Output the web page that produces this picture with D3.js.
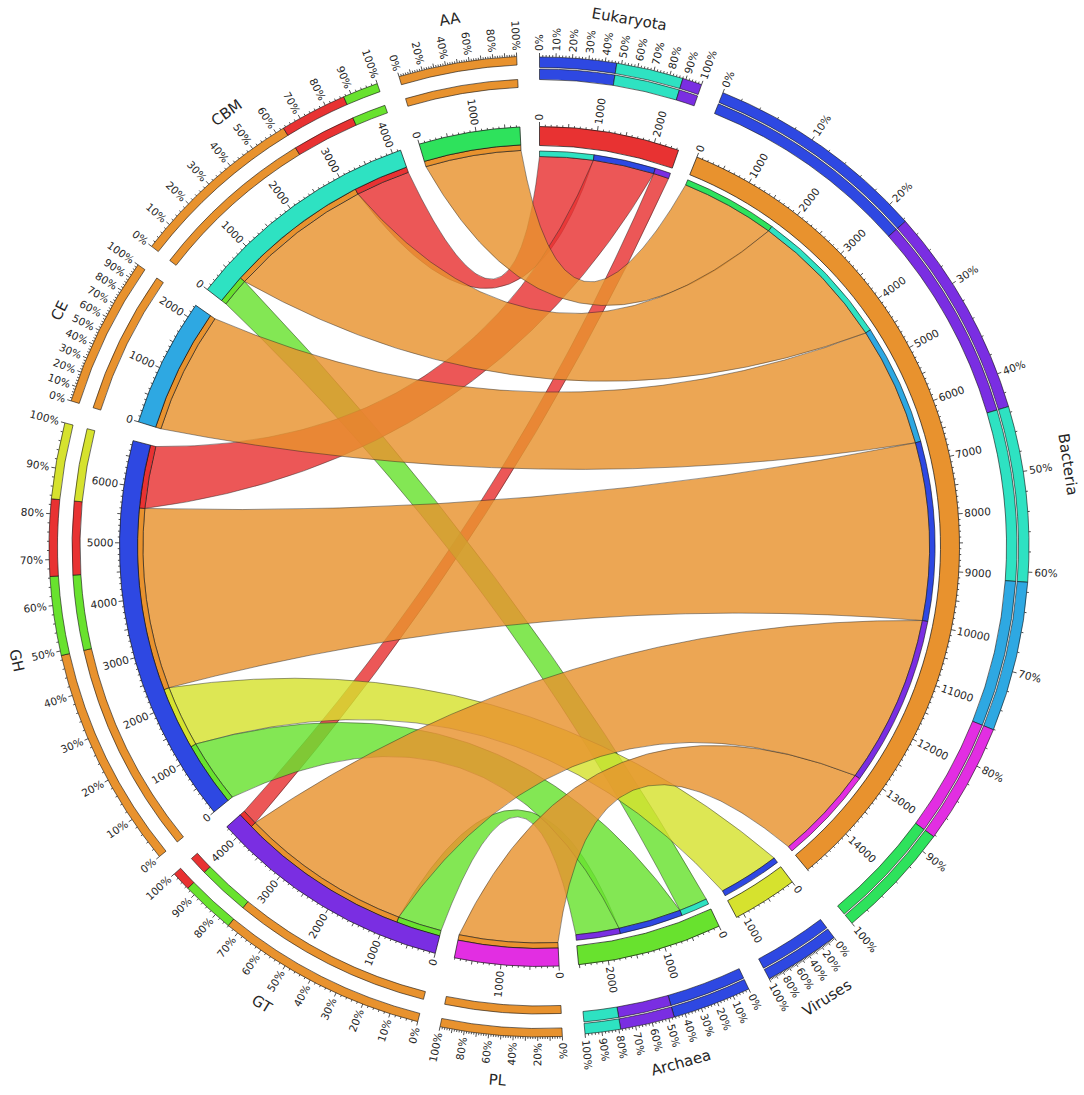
<!DOCTYPE html>
<html>
<head>
<meta charset="utf-8">
<script src="https://cdn.jsdelivr.net/npm/d3@7"></script>
<style>
  body { margin: 0; background: #fff; }
  svg text { font-family: "DejaVu Sans", sans-serif; fill: #262626; }
</style>
</head>
<body>
<svg id="chart" width="1084" height="1095"></svg>
<script>
// rows of the table (organisms) and columns (CAZy classes)
var organisms = ["Eukaryota", "Bacteria", "Viruses", "Archaea"];
var organismColors = ["#e83232", "#e8922e", "#d6e22e", "#68e22e"];
var classes = ["AA", "CBM", "CE", "GH", "GT", "PL"];
var classColors = ["#2ee25c", "#2ee2c2", "#2ea8e2", "#2e48e2", "#7a2ee2", "#e22ee2"];

// counts per organism, same order as classes
var eukaryota = [0, 1000, 0, 1145, 290, 0];
var bacteria  = [1760, 2620, 2240, 3320, 3150, 1810];
var viruses   = [0, 0, 0, 1135, 0, 0];
var archaea   = [0, 530, 0, 1175, 810, 0];
var counts = [eukaryota, bacteria, viruses, archaea];

// segments clockwise from 12 o'clock
var segmentOrder = ["Eukaryota", "Bacteria", "Viruses", "Archaea", "PL", "GT", "GH", "CE", "CBM", "AA"];

var deg = Math.PI / 180;
var gap = 2.67 * deg;
var pull = 0.4;   // bezier control point = pull * midpoint of the two ends

var rad = {
  org: {cap: [390, 395.5], band: [401, 420], ringA: [467, 477.5], ringB: [479, 489.5]},
  cls: {cap: [396.5, 402], band: [402, 420], ringA: [459.5, 467.5], ringB: [482, 490.5]}
};

var svg = d3.select("#chart");
var g = svg.append("g").attr("transform", "translate(539.5,546.5)");

var arc = d3.arc();
function arcPath(r, a0, a1) {
  return arc({innerRadius: r[0], outerRadius: r[1], startAngle: a0, endAngle: a1});
}

// build segments
var segments = segmentOrder.map(function(name, i) {
  var o = organisms.indexOf(name), c = classes.indexOf(name);
  var isOrg = o >= 0;
  var partners;
  if (isOrg) {
    partners = classes.map(function(cn, j) { return {name: cn, value: counts[o][j], color: classColors[j]}; });
  } else {
    partners = organisms.map(function(on, j) { return {name: on, value: counts[j][c], color: organismColors[j]}; });
  }
  partners = partners.filter(function(p) { return p.value > 0; });
  return {
    name: name, isOrg: isOrg,
    color: isOrg ? organismColors[o] : classColors[c],
    partners: partners,
    total: d3.sum(partners, function(p) { return p.value; }),
    r: isOrg ? rad.org : rad.cls
  };
});

var totalUnits = d3.sum(segments, function(s) { return s.total; });
var k = (2 * Math.PI - segments.length * gap) / totalUnits;
var a = 0;
segments.forEach(function(s) {
  s.startAngle = a;
  s.endAngle = a + s.total * k;
  s.scale = d3.scaleLinear().domain([0, s.total]).range([s.startAngle, s.endAngle]);
  s.pct = d3.scaleLinear().domain([0, 100]).range([s.startAngle, s.endAngle]);
  a = s.endAngle + gap;
});

// ribbon ends: partners that sit furthest clockwise come first
var ends = {};
segments.forEach(function(s) {
  var sorted = s.partners.slice().sort(function(p, q) {
    return segmentOrder.indexOf(q.name) - segmentOrder.indexOf(p.name);
  });
  var off = 0;
  s.caps = sorted.map(function(p) {
    var e = {startAngle: s.scale(off), endAngle: s.scale(off + p.value), radius: s.r.cap[0], color: p.color};
    off += p.value;
    ends[s.name + "|" + p.name] = e;
    return e;
  });
});

var links = [];
organisms.forEach(function(on, i) {
  classes.forEach(function(cn, j) {
    if (counts[i][j] > 0) {
      links.push({source: ends[on + "|" + cn], target: ends[cn + "|" + on], value: counts[i][j], color: organismColors[i]});
    }
  });
});
links.sort(function(x, y) { return x.value - y.value; });

// circos-like ribbon: control point pulled towards the chord midpoint
function ribbonPath(d) {
  var s = d.source, t = d.target, h = Math.PI / 2;
  var sr = s.radius, tr = t.radius;
  var sa0 = s.startAngle - h, sa1 = s.endAngle - h;
  var ta0 = t.startAngle - h, ta1 = t.endAngle - h;
  function pt(r, an) { return [r * Math.cos(an), r * Math.sin(an)]; }
  var s0 = pt(sr, sa0), s1 = pt(sr, sa1), t0 = pt(tr, ta0), t1 = pt(tr, ta1);
  var p = d3.path();
  p.moveTo(s0[0], s0[1]);
  p.arc(0, 0, sr, sa0, sa1);
  p.quadraticCurveTo(pull * (s1[0] + t0[0]) / 2, pull * (s1[1] + t0[1]) / 2, t0[0], t0[1]);
  p.arc(0, 0, tr, ta0, ta1);
  p.quadraticCurveTo(pull * (t1[0] + s0[0]) / 2, pull * (t1[1] + s0[1]) / 2, s0[0], s0[1]);
  p.closePath();
  return p.toString();
}

g.append("g").attr("class", "ribbons")
  .selectAll("path")
  .data(links)
  .enter().append("path")
    .attr("d", ribbonPath)
    .style("fill", function(d) { return d.color; })
    .style("fill-opacity", 0.82)
    .style("stroke", "#222")
    .style("stroke-opacity", 0.75)
    .style("stroke-width", 0.6);

var segG = g.selectAll("g.segment")
  .data(segments)
  .enter().append("g")
    .attr("class", "segment");

// caps showing the partner colour at each ribbon end
segG.selectAll("path.cap")
  .data(function(s) { return s.caps.map(function(c) { return {c: c, r: s.r.cap}; }); })
  .enter().append("path")
    .attr("class", "cap")
    .attr("d", function(d) { return arcPath(d.r, d.c.startAngle, d.c.endAngle); })
    .style("fill", function(d) { return d.c.color; })
    .style("stroke", "#111")
    .style("stroke-width", 0.6);

// main band
segG.append("path")
  .attr("d", function(s) { return arcPath(s.r.band, s.startAngle, s.endAngle); })
  .style("fill", function(s) { return s.color; })
  .style("stroke", "#111")
  .style("stroke-width", 0.7);

// percentage rings, largest partner first
segG.each(function(s) {
  var sorted = s.partners.slice().sort(function(p, q) { return q.value - p.value; });
  var cum = 0;
  s.ring = sorted.map(function(p) {
    var p0 = cum;
    cum += p.value / s.total * 100;
    return {p0: p0, p1: cum, color: p.color};
  });
});

["ringA", "ringB"].forEach(function(key) {
  segG.selectAll("path." + key)
    .data(function(s) { return s.ring.map(function(d) { return {d: d, s: s}; }); })
    .enter().append("path")
      .attr("class", key)
      .attr("d", function(d) { return arcPath(d.s.r[key], d.s.pct(d.d.p0), d.s.pct(d.d.p1)); })
      .style("fill", function(d) { return d.d.color; })
      .style("stroke", "#111")
      .style("stroke-width", 0.6);
});

function radialLine(sel, r0, len) {
  sel.attr("x1", function(d) { return r0 * Math.sin(d.angle); })
     .attr("y1", function(d) { return -r0 * Math.cos(d.angle); })
     .attr("x2", function(d) { return (r0 + len(d)) * Math.sin(d.angle); })
     .attr("y2", function(d) { return -(r0 + len(d)) * Math.cos(d.angle); })
     .style("stroke", "#222")
     .style("stroke-width", 0.8);
}

function radialText(sel, r) {
  sel.attr("transform", function(d) {
      var ad = d.angle / deg;
      return ad < 180
        ? "rotate(" + (ad - 90) + ") translate(" + r + ",0)"
        : "rotate(" + (ad - 90) + ") translate(" + r + ",0) rotate(180)";
    })
    .attr("text-anchor", function(d) { return d.angle / deg < 180 ? "start" : "end"; })
    .attr("dy", "0.35em")
    .style("font-size", "10.5px");
}

// count ticks on the band
segG.each(function(s) {
  var ticks = d3.range(0, s.total + 1, 100).map(function(v) { return {v: v, angle: s.scale(v)}; });
  var sel = d3.select(this);
  sel.selectAll("line.ctick")
    .data(ticks)
    .enter().append("line")
      .attr("class", "ctick")
      .call(radialLine, 420, function(d) { return d.v % 1000 === 0 ? 4.5 : (d.v % 500 === 0 ? 3.5 : 1.8); });
  sel.selectAll("text.clabel")
    .data(ticks.filter(function(d) { return d.v % 1000 === 0; }))
    .enter().append("text")
      .attr("class", "clabel")
      .call(radialText, 426)
      .text(function(d) { return d.v; });
});

// percent ticks on the outer ring
segG.each(function(s) {
  var step = (s.endAngle - s.startAngle) / deg > 16 ? 10 : 20;
  var ticks = d3.range(0, 101, 2).map(function(v) { return {v: v, angle: s.pct(v)}; });
  var sel = d3.select(this);
  sel.selectAll("line.ptick")
    .data(ticks)
    .enter().append("line")
      .attr("class", "ptick")
      .call(radialLine, s.r.ringB[1], function(d) { return d.v % 10 === 0 ? 4 : 2; });
  sel.selectAll("text.plabel")
    .data(ticks.filter(function(d) { return d.v % step === 0; }))
    .enter().append("text")
      .attr("class", "plabel")
      .call(radialText, s.r.ringB[1] + 6)
      .text(function(d) { return d.v + "%"; });
});

// segment names
segG.append("text")
  .attr("transform", function(s) {
    var ad = (s.startAngle + s.endAngle) / 2 / deg;
    return ad > 90 && ad < 270
      ? "rotate(" + ad + ") translate(0," + (-535) + ") rotate(180)"
      : "rotate(" + ad + ") translate(0," + (-535) + ")";
  })
  .attr("text-anchor", "middle")
  .attr("dy", "0.35em")
  .style("font-size", "15px")
  .text(function(s) { return s.name; });
</script>
</body>
</html>
